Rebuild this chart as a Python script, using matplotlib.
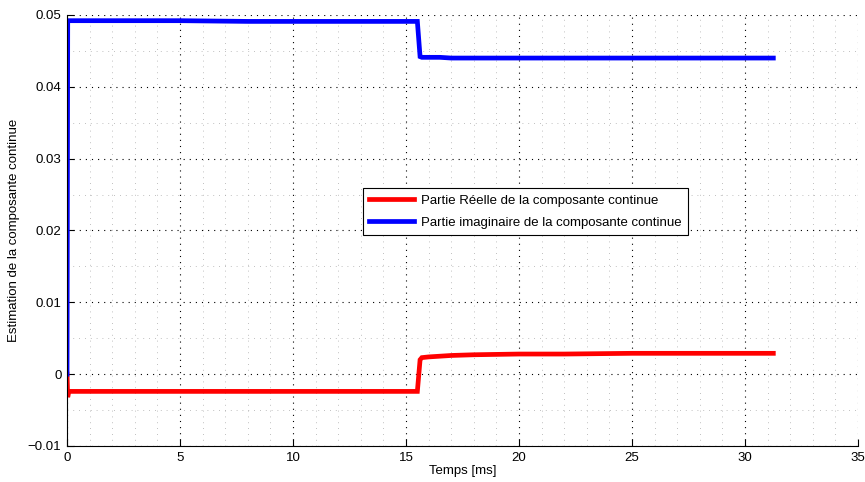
import matplotlib
matplotlib.use("Agg")
import matplotlib.pyplot as plt
from matplotlib.ticker import MultipleLocator

plt.rcParams['font.family'] = ['Liberation Sans', 'DejaVu Sans']

# time points [ms]
time_ms = [0.0, 0.03, 0.08, 2.0, 5.0, 8.0, 10.0, 12.0, 15.0, 15.5, 15.62, 15.7, 16.0,
           16.5, 17.0, 18.0, 20.0, 22.0, 25.0, 28.0, 31.25]
# real part of DC component
real_part = [0.0, -0.0032, -0.0024, -0.0024, -0.0024, -0.0024, -0.0024, -0.0024,
             -0.0024, -0.0024, 0.0020, 0.0023, 0.0024, 0.0025, 0.0026, 0.0027,
             0.0028, 0.0028, 0.0029, 0.0029, 0.0029]
# imaginary part of DC component
imag_part = [0.0, 0.0492, 0.0492, 0.0492, 0.0492, 0.0491, 0.0491, 0.0491, 0.0491,
             0.0491, 0.0442, 0.0441, 0.0441, 0.0441, 0.0440, 0.0440, 0.0440, 0.0440,
             0.0440, 0.0440, 0.0440]

labels = ['Partie Réelle de la composante continue',
          'Partie imaginaire de la composante continue']

FS = 9.5

fig = plt.figure(figsize=(8.65, 4.82), dpi=100)
ax = fig.add_axes([0.0775, 0.0747, 0.9145, 0.8943])

ax.plot(time_ms, real_part, color='#ff0000', lw=3.4, label=labels[0], solid_joinstyle='miter')
ax.plot(time_ms, imag_part, color='#0000ff', lw=3.4, label=labels[1], solid_joinstyle='miter')

ax.set_xlim(0, 35)
ax.set_ylim(-0.01, 0.05)
ax.xaxis.set_major_locator(MultipleLocator(5))
ax.xaxis.set_minor_locator(MultipleLocator(1))
ax.yaxis.set_major_locator(MultipleLocator(0.01))
ax.yaxis.set_minor_locator(MultipleLocator(0.005))
ax.set_yticks([-0.01, 0, 0.01, 0.02, 0.03, 0.04, 0.05])
ax.set_yticklabels(['\u22120.01', '0', '0.01', '0.02', '0.03', '0.04', '0.05'])

ax.grid(True, which='major', color='black', linestyle=(0, (1, 4.5)), linewidth=0.8)
ax.grid(True, which='minor', color='#aaaaaa', linestyle=(0, (1, 6)), linewidth=0.6)
ax.set_axisbelow(True)

for s in ['top', 'right']:
    ax.spines[s].set_visible(False)
ax.spines['left'].set_linewidth(0.8)
ax.spines['bottom'].set_linewidth(0.8)
ax.tick_params(which='major', direction='in', length=5, width=0.8, labelsize=FS, pad=4)
ax.tick_params(which='minor', length=0)

ax.set_xlabel('Temps [ms]', fontsize=FS, labelpad=1)
ax.set_ylabel('Estimation de la composante continue', fontsize=FS, labelpad=6)

leg = ax.legend(loc='upper left', bbox_to_anchor=(0.374, 0.598), fontsize=FS,
                frameon=True, fancybox=False, edgecolor='black', framealpha=1,
                handlelength=3.4, borderpad=0.5, labelspacing=0.7, handletextpad=0.5,
                borderaxespad=0)
leg.get_frame().set_linewidth(0.8)

fig.savefig('out.png', dpi=100)
